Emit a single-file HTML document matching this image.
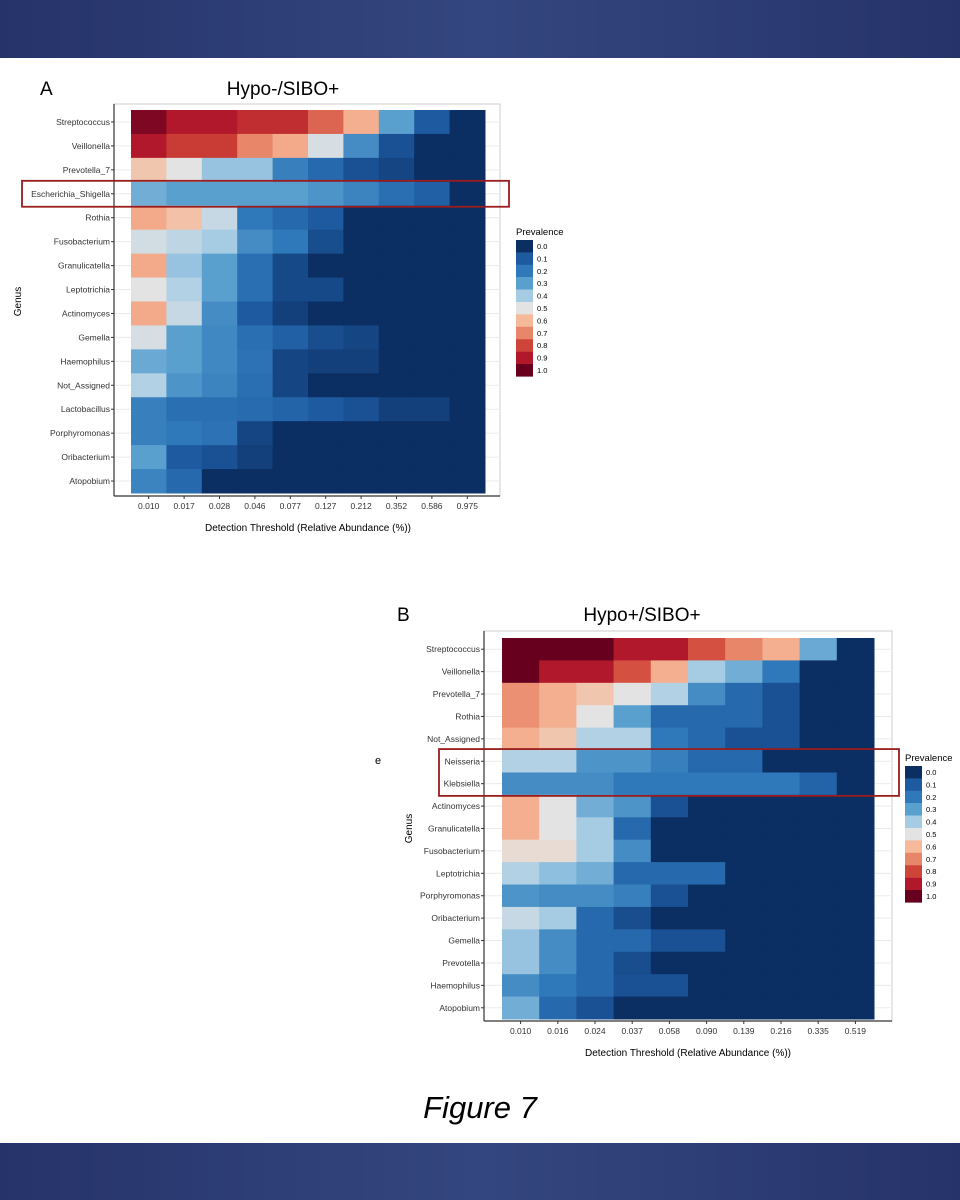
<!DOCTYPE html>
<html><head><meta charset="utf-8"><style>
body{margin:0;width:960px;height:1200px;background:#fff;overflow:hidden;font-family:"Liberation Sans",sans-serif}
.banner{position:absolute;left:0;width:960px;background:linear-gradient(90deg,#26336a,#34467f 50%,#26336a)}
</style></head><body>
<div class="banner" style="top:0;height:58px"></div>
<div class="banner" style="top:1143px;height:57px"></div>
<svg id="fig" width="960" height="1200" style="position:absolute;left:0;top:0">
<text x="40" y="95" font-size="19">A</text>
<text x="283" y="95" font-size="19" text-anchor="middle">Hypo-/SIBO+</text>
<text x="397" y="621" font-size="19">B</text>
<text x="642" y="621" font-size="19" text-anchor="middle">Hypo+/SIBO+</text>
<text x="375" y="764" font-size="11">e</text>
<text x="480" y="1118" font-size="31" font-style="italic" text-anchor="middle">Figure 7</text>
</svg>
<script>
const ticksA=["0.010","0.017","0.028","0.046","0.077","0.127","0.212","0.352","0.586","0.975"];
const genusA=["Streptococcus","Veillonella","Prevotella_7","Escherichia_Shigella","Rothia","Fusobacterium","Granulicatella","Leptotrichia","Actinomyces","Gemella","Haemophilus","Not_Assigned","Lactobacillus","Porphyromonas","Oribacterium","Atopobium"];
const valuesA=[
[0.97,0.9,0.9,0.85,0.85,0.75,0.62,0.3,0.1,0],
[0.9,0.82,0.82,0.7,0.63,0.48,0.25,0.08,0,0],
[0.57,0.5,0.38,0.38,0.22,0.15,0.08,0.05,0,0],
[0.33,0.3,0.3,0.3,0.3,0.27,0.23,0.17,0.12,0],
[0.63,0.58,0.45,0.2,0.15,0.1,0,0,0,0],
[0.47,0.44,0.4,0.25,0.2,0.07,0,0,0,0],
[0.63,0.38,0.3,0.17,0.06,0,0,0,0,0],
[0.5,0.42,0.3,0.17,0.06,0.06,0,0,0,0],
[0.63,0.45,0.25,0.1,0.04,0,0,0,0,0],
[0.48,0.3,0.24,0.17,0.12,0.07,0.05,0,0,0],
[0.32,0.3,0.24,0.18,0.05,0.04,0.04,0,0,0],
[0.42,0.27,0.23,0.17,0.05,0,0,0,0,0],
[0.22,0.17,0.17,0.16,0.13,0.1,0.08,0.04,0.04,0],
[0.22,0.2,0.18,0.05,0,0,0,0,0,0],
[0.3,0.1,0.08,0.04,0,0,0,0,0,0],
[0.23,0.15,0,0,0,0,0,0,0,0]];
const ticksB=["0.010","0.016","0.024","0.037","0.058","0.090","0.139","0.216","0.335","0.519"];
const genusB=["Streptococcus","Veillonella","Prevotella_7","Rothia","Not_Assigned","Neisseria","Klebsiella","Actinomyces","Granulicatella","Fusobacterium","Leptotrichia","Porphyromonas","Oribacterium","Gemella","Prevotella","Haemophilus","Atopobium"];
const valuesB=[
[1,1,1,0.9,0.9,0.78,0.7,0.62,0.32,0],
[1,0.9,0.9,0.78,0.62,0.4,0.33,0.2,0,0],
[0.68,0.62,0.57,0.5,0.42,0.25,0.15,0.08,0,0],
[0.68,0.62,0.5,0.3,0.15,0.15,0.15,0.08,0,0],
[0.62,0.57,0.42,0.42,0.2,0.15,0.08,0.08,0,0],
[0.42,0.42,0.27,0.27,0.22,0.15,0.15,0,0,0],
[0.25,0.25,0.25,0.2,0.2,0.2,0.2,0.2,0.13,0],
[0.62,0.5,0.33,0.27,0.08,0,0,0,0,0],
[0.62,0.5,0.4,0.15,0,0,0,0,0,0],
[0.52,0.52,0.4,0.25,0,0,0,0,0,0],
[0.42,0.37,0.33,0.15,0.15,0.15,0,0,0,0],
[0.27,0.25,0.25,0.22,0.08,0,0,0,0,0],
[0.45,0.4,0.15,0.07,0,0,0,0,0,0],
[0.38,0.25,0.15,0.15,0.08,0.08,0,0,0,0],
[0.38,0.25,0.15,0.07,0,0,0,0,0,0],
[0.25,0.2,0.15,0.08,0.08,0,0,0,0,0],
[0.33,0.15,0.08,0,0,0,0,0,0,0]];
const legendLabels=["0.0","0.1","0.2","0.3","0.4","0.5","0.6","0.7","0.8","0.9","1.0"];
const stops=["#0b2f63","#1e5aa0","#2f78b9","#5aa0cf","#a6cce4","#e3e3e3","#f6b999","#e8866a","#cf4438","#b2182b","#67001f"];
function hex(c){return [1,3,5].map(i=>parseInt(c.substr(i,2),16));}
function color(v){v=Math.max(0,Math.min(1,v))*10;const i=Math.min(9,Math.floor(v)),t=v-i;const a=hex(stops[i]),b=hex(stops[i+1]);return "rgb("+a.map((x,k)=>Math.round(x+(b[k]-x)*t)).join(",")+")";}
const NS="http://www.w3.org/2000/svg",svg=document.getElementById("fig");
function mk(tag,attrs,parent,txt){const e=document.createElementNS(NS,tag);for(const k in attrs)e.setAttribute(k,attrs[k]);if(txt!=null)e.textContent=txt;(parent||svg).appendChild(e);return e;}
function heat(cfg,genus,ticks,vals,pfx){
  const g=mk("g",{});
  
  
  const cw=(cfg.x1-cfg.x0)/ticks.length,rh=(cfg.y1-cfg.y0)/genus.length;
  const xs=i=>cfg.x0+i*cw, ys=j=>cfg.y0+j*rh;
  mk("rect",{x:cfg.ax,y:cfg.top,width:cfg.right-cfg.ax,height:cfg.bot-cfg.top,fill:"#fff",stroke:"#ccc","stroke-width":1},g);
  genus.forEach((n,j)=>mk("line",{x1:cfg.ax,x2:cfg.right,y1:ys(j)+rh/2,y2:ys(j)+rh/2,stroke:"#ebebeb"},g));
  vals.forEach((row,j)=>row.forEach((v,i)=>{
    const r=mk("rect",{x:xs(i),y:ys(j),width:cw+0.5,height:rh+0.5,fill:color(v)},g);
    
    
  }));
  mk("line",{x1:cfg.ax,x2:cfg.ax,y1:cfg.top,y2:cfg.bot,stroke:"#333","stroke-width":1.2},g);
  mk("line",{x1:cfg.ax,x2:cfg.right,y1:cfg.bot,y2:cfg.bot,stroke:"#333","stroke-width":1.2},g);
  genus.forEach((n,j)=>{
    const y=ys(j)+rh/2;
    mk("line",{x1:cfg.ax-3,x2:cfg.ax,y1:y,y2:y,stroke:"#333"},g);
    const t=mk("text",{x:cfg.ax-4,y:y+3,"font-size":8.5,"text-anchor":"end",fill:"#333"},g,n);
    
    
  });
  ticks.forEach((n,i)=>{
    const x=xs(i)+cw/2;
    mk("line",{x1:x,x2:x,y1:cfg.bot,y2:cfg.bot+3,stroke:"#333"},g);
    const t=mk("text",{x:x,y:cfg.bot+13,"font-size":8.5,"text-anchor":"middle",fill:"#333"},g,n);
    
    
  });
  const xt=mk("text",{x:(cfg.x0+cfg.x1)/2,y:cfg.bot+35,"font-size":10,"text-anchor":"middle"},g,"Detection Threshold (Relative Abundance (%))");
  
  
  const gy=(cfg.y0+cfg.y1)/2;
  const yt=mk("text",{x:cfg.gx,y:gy,"font-size":10,"text-anchor":"middle",transform:"rotate(-90 "+cfg.gx+" "+gy+")"},g,"Genus");
  
  
  // legend
  const lt=mk("text",{x:cfg.lx,y:cfg.ly-5,"font-size":9.5},g,"Prevalence");
  
  
  legendLabels.forEach((l,k)=>{
    mk("rect",{x:cfg.lx,y:cfg.ly+k*12.4,width:17,height:12.6,fill:stops[k]},g);
    const t=mk("text",{x:cfg.lx+21,y:cfg.ly+k*12.4+9,"font-size":7.5},g,l);
    
    
  });
  const hb=mk("rect",{x:cfg.hx0,y:ys(cfg.hr)-1,width:cfg.hx1-cfg.hx0,height:rh*cfg.hn+2,fill:"none",stroke:"#9b1c1c","stroke-width":1.8},g);
  
  
}
heat({x0:131,x1:485,y0:110,y1:493,ax:114,top:104,bot:496,right:500,gx:21,lx:516,ly:240,hx0:22,hx1:509,hr:3,hn:1},genusA,ticksA,valuesA,"panel-a");
heat({x0:502,x1:874,y0:638,y1:1019,ax:484,top:631,bot:1021,right:892,gx:412,lx:905,ly:766,hx0:439,hx1:899,hr:5,hn:2},genusB,ticksB,valuesB,"panel-b");
</script>
</body></html>
